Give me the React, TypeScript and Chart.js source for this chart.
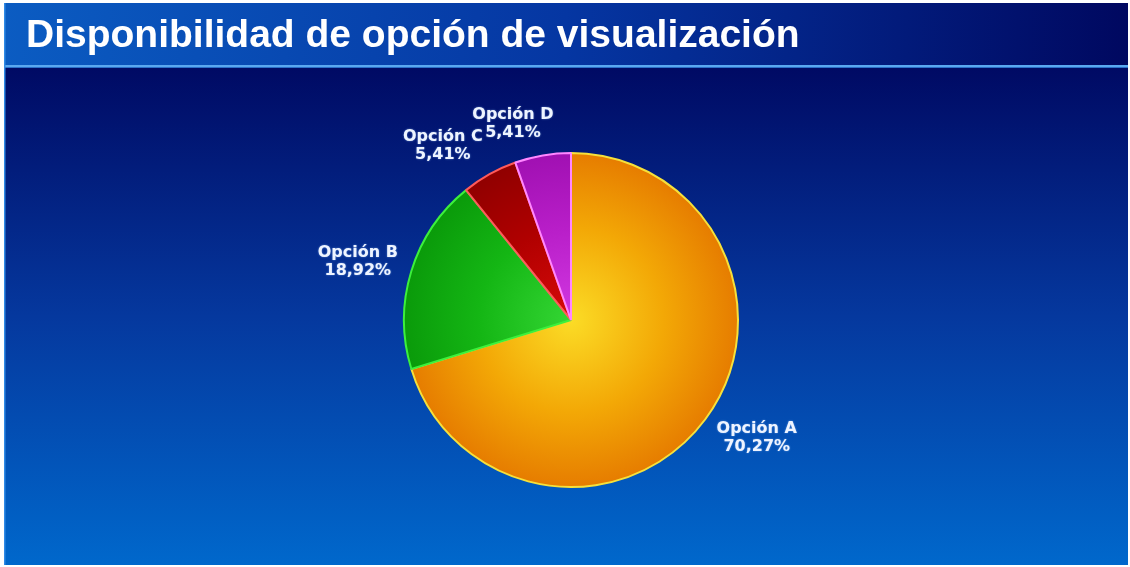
import React, { useEffect, useRef } from "react";
import { Chart, registerables } from "chart.js";

Chart.register(...registerables);

const TITLE = "Disponibilidad de opción de visualización";
const categories = ["Opción A", "Opción B", "Opción C", "Opción D"];
const values = [70.27, 18.92, 5.41, 5.41];

// styles
const innerColors = ["#fbdc26", "#34d634", "#d80a0a", "#d238e2"];
const midColors = ["#f3a806", "#14b614", "#b00000", "#b81ec8"];
const outerColors = ["#e67c00", "#0a9a0a", "#900000", "#a010b2"];
const borderColors = ["#f6e03a", "#3cf03c", "#ff5a5a", "#ff86ff"];

const fmtPct = (v: number) => v.toFixed(2).replace(".", ",") + "%";

const bgPlugin = {
  id: "bgPlugin",
  beforeDraw(chart: any) {
    const ctx = chart.ctx as CanvasRenderingContext2D;
    const W = chart.width;
    const H = chart.height;
    const L = 4, T = 3, R = 1128, B = 565;
    ctx.save();
    ctx.fillStyle = "#ffffff";
    ctx.fillRect(0, 0, W, H);
    // body
    let g = ctx.createLinearGradient(0, 68, 0, B);
    g.addColorStop(0, "#000a64");
    g.addColorStop(0.5, "#05389e");
    g.addColorStop(1, "#0068cc");
    ctx.fillStyle = g;
    ctx.fillRect(L, 68, R - L, B - 68);
    // title bar
    g = ctx.createLinearGradient(L, 0, R, 0);
    g.addColorStop(0, "#0b5cc2");
    g.addColorStop(0.5, "#0536a2");
    g.addColorStop(1, "#000860");
    ctx.fillStyle = g;
    ctx.fillRect(L, T, R - L, 66 - T);
    // separator
    ctx.fillStyle = "#5aa8f0";
    ctx.fillRect(L, 65, R - L, 2);
    ctx.fillStyle = "#2a70c8";
    ctx.fillRect(L, 67, R - L, 1);
    // left edge
    ctx.fillStyle = "#2f8ae6";
    ctx.fillRect(L, T, 1.5, B - T);
    // title
    ctx.fillStyle = "#ffffff";
    ctx.font = 'bold 39px "Liberation Sans", Arial, sans-serif';
    ctx.textBaseline = "alphabetic";
    ctx.textAlign = "left";
    ctx.fillText(TITLE, 26, 47);
    ctx.restore();
  },
};

const labelPlugin = {
  id: "labelPlugin",
  afterDatasetsDraw(chart: any) {
    const ctx = chart.ctx as CanvasRenderingContext2D;
    const meta = chart.getDatasetMeta(0);
    ctx.save();
    ctx.font = 'bold 16px "DejaVu Sans", Verdana, sans-serif';
    ctx.fillStyle = "#eef4ff";
    ctx.textAlign = "center";
    ctx.textBaseline = "middle";
    ctx.shadowColor = "rgba(160,200,255,0.6)";
    ctx.shadowBlur = 2;
    meta.data.forEach((arc: any, i: number) => {
      const p = arc.getProps(["x", "y", "startAngle", "endAngle", "outerRadius"], true);
      const mid = (p.startAngle + p.endAngle) / 2;
      const c = Math.cos(mid);
      const s = Math.sin(mid);
      const ax = p.x + (p.outerRadius + 14) * c;
      const ay = p.y + (p.outerRadius + 14) * s;
      const lines = [categories[i], fmtPct(values[i])];
      const w = Math.max(...lines.map((l) => ctx.measureText(l).width));
      const lh = 18;
      const h = lh * lines.length;
      const hx = Math.max(-1, Math.min(1, c * 4));
      const cx = ax + (hx * w) / 2;
      const cy = ay + (s * h) / 2;
      lines.forEach((l, k) => ctx.fillText(l, cx, cy - h / 2 + lh * (k + 0.5)));
    });
    ctx.restore();
  },
};

export default function App() {
  const ref = useRef<HTMLCanvasElement | null>(null);
  useEffect(() => {
    if (!ref.current) return;
    const chart = new Chart(ref.current, {
      type: "pie",
      data: {
        labels: categories,
        datasets: [
          {
            data: values,
            backgroundColor: (context: any) => {
              const i = context.dataIndex;
              const ch = context.chart;
              const a = ch.chartArea;
              if (!a) return midColors[i];
              const cx = (a.left + a.right) / 2;
              const cy = (a.top + a.bottom) / 2;
              const r = Math.min(a.width, a.height) / 2;
              const g = ch.ctx.createRadialGradient(cx, cy, 0, cx, cy, r);
              g.addColorStop(0, innerColors[i]);
              g.addColorStop(0.55, midColors[i]);
              g.addColorStop(1, outerColors[i]);
              return g;
            },
            borderColor: borderColors,
            borderWidth: 2,
          },
        ],
      },
      options: {
        responsive: false,
        animation: false,
        layout: { padding: { left: 403, right: 391, top: 152, bottom: 79 } },
        plugins: {
          legend: { display: false },
          tooltip: { enabled: false },
          title: { display: false },
        },
      },
      plugins: [bgPlugin, labelPlugin],
    } as any);
    return () => chart.destroy();
  }, []);
  return (
    <div style={{ position: "fixed", left: 0, top: 0, width: 1130, height: 567 }}>
      <canvas ref={ref} width={1130} height={567} style={{ display: "block" }} />
    </div>
  );
}
